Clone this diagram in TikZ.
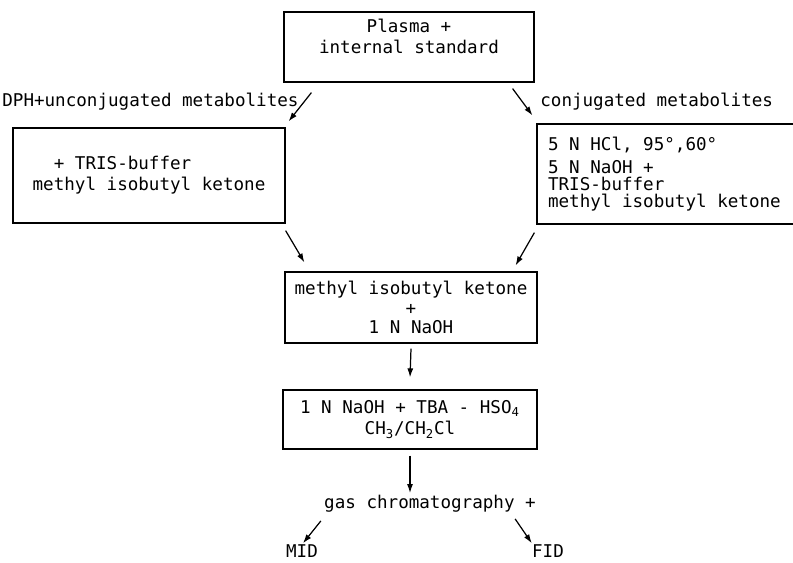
\documentclass[tikz,border=0pt]{standalone}
\usepackage{fontspec}
\newfontfamily\flowfont{DejaVu Sans Mono}
\usepackage{tikz}
\usetikzlibrary{calc}
\usetikzlibrary{arrows.meta}
\usetikzlibrary{positioning}
\tikzset{>=latex}
\tikzstyle{box} = [rectangle, draw = black, line width = 0.7pt, inner sep = 0]
\tikzstyle{lab} = [draw=none, inner sep = 0]
\tikzstyle{flow} = [-{Latex[length=1.8mm, width=1.2mm]}, line width = 0.7pt]

\begin{document}
\begin{tikzpicture}[x=0.02cm, y=-0.02cm, font=\flowfont\fontsize{10}{12}\selectfont]
\useasboundingbox (0, 0) rectangle (793, 563);
\node [box, minimum width = 5cm, minimum height = 1.4cm, align = center] (plasma) at (409, 47) {Plasma +\\internal standard\\ };
\node [lab, anchor = west] (unconj) at (2, 102) {DPH+unconjugated metabolites};
\node [lab, anchor = west] (conj) at (540, 102) {conjugated metabolites};
\node [box, minimum width = 5.44cm, minimum height = 1.9cm, align = left] (left) at (149, 175.5) {\ \ + TRIS-buffer\\methyl isobutyl ketone};
\node [box, minimum width = 6.5cm, minimum height = 2cm, text width = 6.06cm, align = left] (right) at (699.5, 174) {\spaceskip=0pt\xspaceskip=0pt 5 N HCl, 95°,60°\\[1pt]5 N NaOH +\\[-2.4pt]TRIS-buffer\\[-2.4pt]methyl isobutyl ketone};
\node [box, minimum width = 5.04cm, minimum height = 1.42cm, align = center] (mibk) at (411, 307.5) {methyl isobutyl ketone\\[-1pt] +\\[-1pt] 1 N NaOH};
\node [box, minimum width = 5.08cm, minimum height = 1.18cm, align = center] (tba) at (410, 419.5) {1 N NaOH + TBA - HSO\textsubscript{4}\\CH\textsubscript{3}/CH\textsubscript{2}Cl};
\node [lab] (gas) at (430, 504) {gas chromatography +};
\node [lab] (mid) at (302, 551) {MID};
\node [lab] (fid) at (548, 551) {FID};
\draw [flow] ($(plasma.south west)+(28, 10)$) to ($(left.north east)+(3, -6)$);
\draw [flow] ($(plasma.south east)+(-22, 6)$) to ($(right.north west)+(-4, -8)$);
\draw [flow] ($(left.south east)+(0, 7)$) to ($(mibk.north west)+(20, -9)$);
\draw [flow] ($(right.south west)+(-2, 8)$) to ($(mibk.north east)+(-22, -6)$);
\draw [flow] ($(mibk.south)+(0, 5)$) to ($(tba.north)+(0, -12)$);
\draw [flow] ($(tba.south)+(0, 6)$) to ($(tba.south |- gas.north)+(0, -2)$);
\draw [flow] ($(gas.south west)+(-3, 8)$) to ($(mid.north)+(1, -1)$);
\draw [flow] ($(gas.south east)+(-21, 6)$) to ($(fid.north west)+(0, -1)$);
\end{tikzpicture}
\end{document}
